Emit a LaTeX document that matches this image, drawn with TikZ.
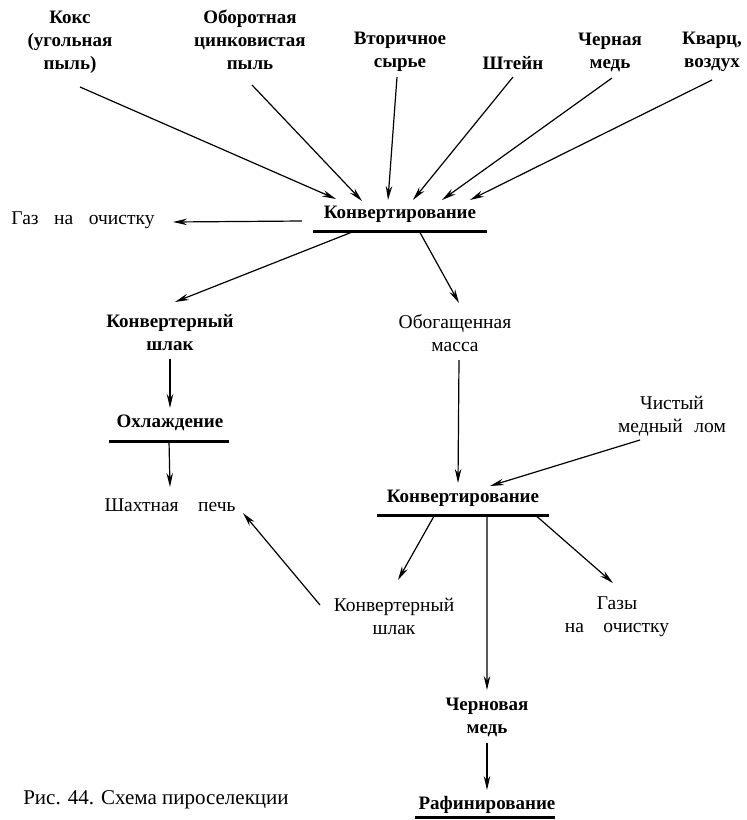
\documentclass[tikz,border=0pt]{standalone}
\usepackage{fontspec}
\setmainfont{Liberation Serif}
\usetikzlibrary{arrows.meta,calc}
\begin{document}
\begin{tikzpicture}[x=1pt,y=-1pt,
  lbl/.style={font=\fontsize{19}{23}\selectfont\bfseries, align=center, inner sep=1pt},
  lblr/.style={font=\fontsize{19.5}{23}\selectfont, align=center, inner sep=1pt},
  captext/.style={font=\fontsize{21}{24}\selectfont, inner sep=1pt},
  arr/.style={line width=1.2pt, -{Stealth[length=14pt,width=6.5pt]}},
  bar/.style={line width=3pt}]
\useasboundingbox (0,0) rectangle (747,820);
% sources
\node[lbl] (koks) at (70,42) {Кокс\\(угольная\\пыль)};
\node[lbl] (obor) at (250,40) {Оборотная\\цинковистая\\пыль};
\node[lbl] (vtor) at (400,52) {Вторичное\\сырье};
\node[lbl] (shtein) at (513,63) {Штейн};
\node[lbl] (chern) at (610,52) {Черная\\медь};
\node[lbl] (kvarc) at (712,52) {Кварц,\\воздух};
% first converting
\node[lbl] (conv1) at (400,214) {Конвертирование};
\coordinate (u1l) at (313,231); \coordinate (u1r) at (487,231);
\draw[bar] (u1l) -- (u1r);
\node[lblr] (gaz) at (83,220) {Газ\hspace{0.8em}на\hspace{0.8em}очистку};
\node[lbl] (kshl1) at (170,333) {Конвертерный\\шлак};
\node[lblr] (obog) at (455,333) {Обогащенная\\масса};
\node[lbl] (ohl) at (170,423) {Охлаждение};
\coordinate (u3l) at (109,441); \coordinate (u3r) at (229,441);
\draw[bar] (u3l) -- (u3r);
\node[lblr] (shpech) at (170,505) {Шахтная\hspace{1em}печь};
\node[lblr] (chist) at (672,416) {Чистый\\медный\hspace{0.6em}лом};
% second converting
\node[lbl] (conv2) at (463,498) {Конвертирование};
\coordinate (u2l) at (377,515); \coordinate (u2r) at (549,515);
\draw[bar] (u2l) -- (u2r);
\node[lblr] (kshl2) at (394,616) {Конвертерный\\шлак};
\node[lblr] (gazy) at (617,617) {Газы\\на\hspace{1em}очистку};
\node[lbl] (chernov) at (487,717) {Черновая\\медь};
\node[lbl] (raf) at (487,805) {Рафинирование};
\coordinate (u4l) at (415,817); \coordinate (u4r) at (555,817);
\draw[bar] (u4l) -- (u4r);
\node[captext] (caption) at (156,800) {Рис. 44. Схема пироселекции};
% arrows into first converting
\draw[arr] ([shift={(10,45)}]koks.center) -- ([shift={(-64,-15)}]conv1.center);
\draw[arr] ([shift={(2,45)}]obor.center) -- ([shift={(-38,-13)}]conv1.center);
\draw[arr] ([shift={(-3,25)}]vtor.center) -- ([shift={(-12,-14)}]conv1.center);
\draw[arr] ([shift={(0,14)}]shtein.center) -- ([shift={(13,-14)}]conv1.center);
\draw[arr] ([shift={(2,26)}]chern.center) -- ([shift={(42,-14)}]conv1.center);
\draw[arr] ([shift={(0,28)}]kvarc.center) -- ([shift={(70,-14)}]conv1.center);
\draw[arr] ([shift={(-98,7)}]conv1.center) -- ([shift={(90,2)}]gaz.center);
% from first converting
\draw[arr] ($(u1l)!0.24!(u1r)$) -- ([shift={(5,-31)}]kshl1.center);
\draw[arr] ($(u1l)!0.61!(u1r)$) -- ([shift={(4,-30)}]obog.center);
\draw[arr] ([shift={(0,26)}]kshl1.center) -- ([shift={(0,-15)}]ohl.center);
\draw[arr] ($(u3l)!0.5!(u3r)$) -- ([shift={(0,-18)}]shpech.center);
\draw[arr] ([shift={(4,27)}]obog.center) -- ([shift={(-5,-15)}]conv2.center);
\draw[arr] ([shift={(-32,24)}]chist.center) -- ([shift={(27,-12)}]conv2.center);
% from second converting
\draw[arr] ($(u2l)!0.335!(u2r)$) -- ([shift={(4,-36)}]kshl2.center);
\draw[arr] ($(u2l)!0.64!(u2r)$) -- ([shift={(0,-27)}]chernov.center);
\draw[arr] ($(u2l)!0.92!(u2r)$) -- ([shift={(-4,-34)}]gazy.center);
\draw[arr] ([shift={(-74,-11)}]kshl2.center) -- ([shift={(73,8)}]shpech.center);
\draw[arr] ([shift={(0,26)}]chernov.center) -- ([shift={(0,-15)}]raf.center);
\end{tikzpicture}
\end{document}
